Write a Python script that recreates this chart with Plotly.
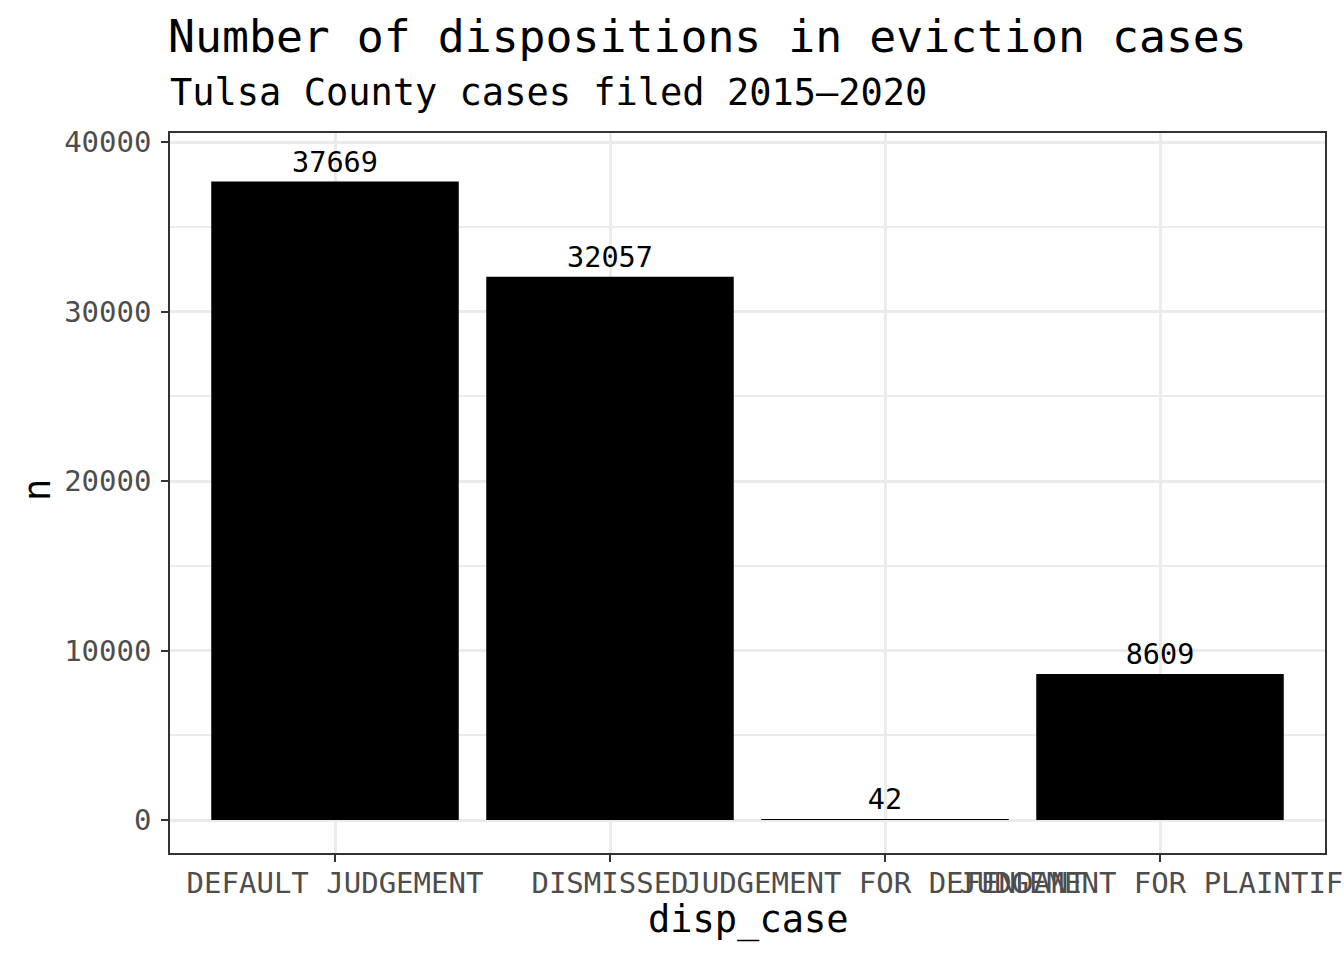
import plotly.graph_objects as go

categories = ["DEFAULT JUDGEMENT", "DISMISSED", "JUDGEMENT FOR DEFENDANT", "JUDGEMENT FOR PLAINTIFF"]
counts = [37669, 32057, 42, 8609]
y_ticks = [0, 10000, 20000, 30000, 40000]
title = "Number of dispositions in eviction cases"
subtitle = "Tulsa County cases filed 2015\u20132020"

FONT = "DejaVu Sans Mono"
W, H = 1344, 960
L, R, T, B = 170, 19, 133, 107
pw, ph = W - L - R, H - T - B

def px(x):
    return (x - L) / pw

def py(y):
    return (H - B - y) / ph

fig = go.Figure()
fig.add_trace(go.Bar(
    x=categories, y=counts, width=0.9,
    marker=dict(color="black", line=dict(width=0)),
    text=[str(v) for v in counts], textposition="outside",
    textfont=dict(family=FONT, size=28.5, color="black"),
    cliponaxis=False, showlegend=False,
))

fig.update_layout(
    width=W, height=H,
    margin=dict(l=L, r=R, t=T, b=B, pad=0),
    paper_bgcolor="white", plot_bgcolor="white",
    font=dict(family=FONT, color="black"),
    bargap=0.1,
    showlegend=False,
)
fig.update_xaxes(
    type="category", range=[-0.6, 3.6], tickangle=0,
    showgrid=True, gridcolor="#EBEBEB", gridwidth=3,
    ticks="outside", ticklen=7, tickwidth=2, tickcolor="#333333",
    tickfont=dict(family=FONT, size=29, color="#4D4D4D"),
    ticklabelstandoff=-4,
    showline=True, linecolor="#333333", linewidth=1.5, mirror=True,
    zeroline=False, automargin=False,
)
fig.update_yaxes(
    range=[-1947, 40531], tickvals=y_ticks, ticktext=[str(v) for v in y_ticks],
    showgrid=True, gridcolor="#EBEBEB", gridwidth=3,
    minor=dict(tickvals=[5000, 15000, 25000, 35000], showgrid=True, gridcolor="#EBEBEB", gridwidth=1.5, ticks=""),
    ticks="outside", ticklen=7, tickwidth=2, tickcolor="#333333",
    tickfont=dict(family=FONT, size=29, color="#4D4D4D"),
    ticklabelstandoff=4,
    showline=True, linecolor="#333333", linewidth=1.5, mirror=True,
    zeroline=False, automargin=False,
)

fig.add_annotation(text=title, xref="paper", yref="paper", x=px(166), y=py(36),
                   xanchor="left", yanchor="middle", showarrow=False,
                   font=dict(family=FONT, size=44.8, color="black"))
fig.add_annotation(text=subtitle, xref="paper", yref="paper", x=px(168), y=py(93),
                   xanchor="left", yanchor="middle", showarrow=False,
                   font=dict(family=FONT, size=37, color="black"))
fig.add_annotation(text="disp_case", xref="paper", yref="paper", x=0.5, y=py(920),
                   xanchor="center", yanchor="middle", showarrow=False,
                   font=dict(family=FONT, size=37, color="black"))
fig.add_annotation(text="n", xref="paper", yref="paper", x=px(37), y=py(490),
                   xanchor="center", yanchor="middle", showarrow=False, textangle=-90,
                   font=dict(family=FONT, size=37, color="black"))

fig.write_html("out.html")
